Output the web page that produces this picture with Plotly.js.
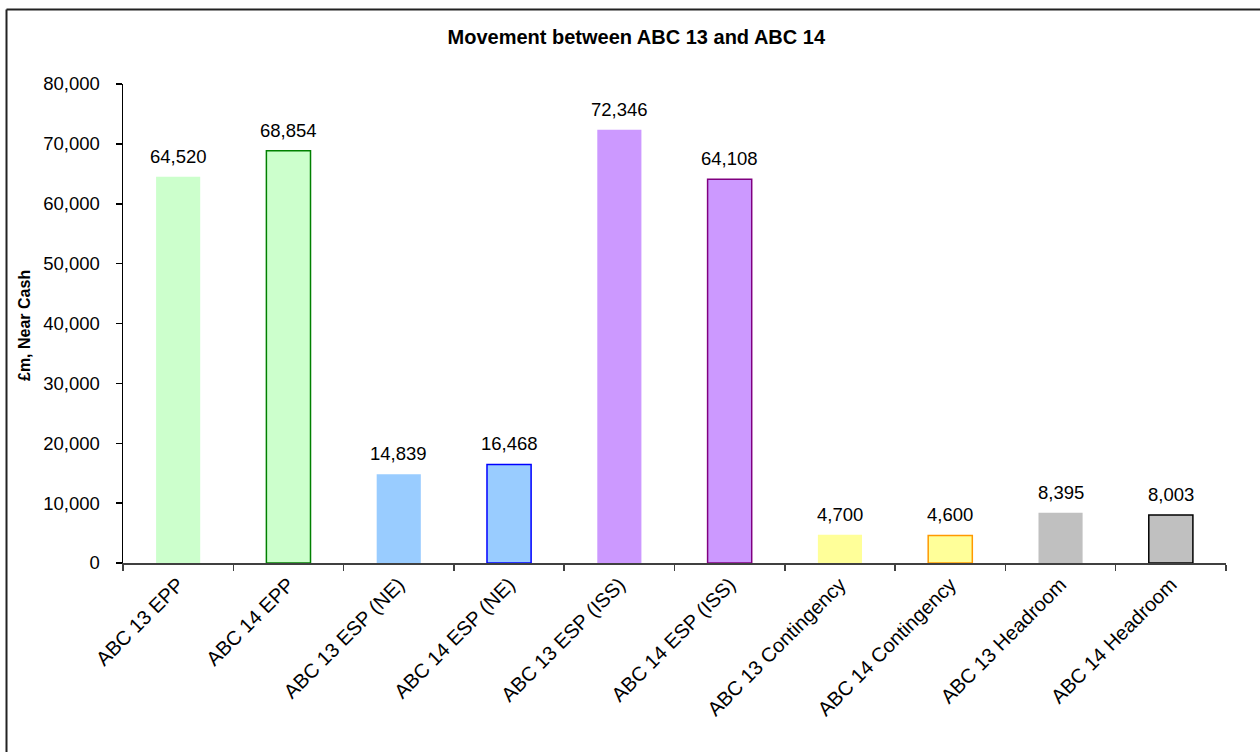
<!DOCTYPE html>
<html>
<head>
<meta charset="utf-8">
<script src="https://cdn.plot.ly/plotly-3.0.1.min.js"></script>
<style>
  html, body { margin: 0; padding: 0; background: #fff; }
  #chart { width: 1260px; height: 752px; }
</style>
</head>
<body>
<div id="chart"></div>
<script>
// Near-cash budget lines, ABC 13 vs ABC 14 (£m)
const categories = [
  "ABC 13 EPP", "ABC 14 EPP",
  "ABC 13 ESP (NE)", "ABC 14 ESP (NE)",
  "ABC 13 ESP (ISS)", "ABC 14 ESP (ISS)",
  "ABC 13 Contingency", "ABC 14 Contingency",
  "ABC 13 Headroom", "ABC 14 Headroom"
];
const values = [64520, 68854, 14839, 16468, 72346, 64108, 4700, 4600, 8395, 8003];
const fillColors = [
  "#CCFFCC", "#CCFFCC",
  "#99CCFF", "#99CCFF",
  "#CC99FF", "#CC99FF",
  "#FFFF99", "#FFFF99",
  "#C0C0C0", "#C0C0C0"
];
const outlineColors = [
  "#CCFFCC", "#008000",
  "#99CCFF", "#0000FF",
  "#CC99FF", "#800080",
  "#FFFF99", "#FF9900",
  "#C0C0C0", "#000000"
];
const outlineWidths = [0, 1.5, 0, 1.5, 0, 1.5, 0, 1.5, 0, 1.5];
const yTickValues = [0, 10000, 20000, 30000, 40000, 50000, 60000, 70000, 80000];

const FONT = "Arial, 'Liberation Sans', sans-serif";

const trace = {
  type: "bar",
  x: categories,
  y: values,
  width: 0.4,
  marker: {
    color: fillColors,
    line: { color: outlineColors, width: outlineWidths }
  },
  hoverinfo: "skip",
  showlegend: false
};

// Value labels above each bar
const valueLabels = categories.map((c, i) => ({
  x: c,
  y: values[i],
  xref: "x",
  yref: "y",
  text: values[i].toLocaleString("en-US"),
  showarrow: false,
  yanchor: "bottom",
  yshift: 8,
  font: { family: FONT, size: 18.5, color: "#000" }
}));

const layout = {
  width: 1260,
  height: 752,
  margin: { l: 123, r: 34, t: 84, b: 189 },
  paper_bgcolor: "#fff",
  plot_bgcolor: "#fff",
  font: { family: FONT, color: "#000" },
  title: {
    text: "<b>Movement between ABC 13 and ABC 14</b>",
    font: { family: FONT, size: 20, color: "#000" },
    x: 0.505,
    xanchor: "center",
    y: 1 - 37 / 752,
    yanchor: "middle"
  },
  xaxis: {
    type: "category",
    showgrid: false,
    showline: true,
    linecolor: "#404040",
    linewidth: 2,
    ticks: "outside",
    tickson: "boundaries",
    ticklen: 6,
    tickcolor: "#404040",
    tickwidth: 1.5,
    tickangle: -45,
    tickfont: { family: FONT, size: 20, color: "#000" },
    zeroline: false
  },
  yaxis: {
    range: [0, 80000],
    autorange: false,
    tickvals: yTickValues,
    tickformat: ",d",
    showgrid: false,
    zeroline: false,
    showline: true,
    linecolor: "#000",
    linewidth: 1.5,
    ticks: "outside",
    ticklen: 6,
    tickcolor: "#000",
    tickwidth: 1.5,
    ticklabelstandoff: 12,
    tickfont: { family: FONT, size: 18.5, color: "#000" }
  },
  annotations: valueLabels.concat([{
    text: "<b>£m, Near Cash</b>",
    xref: "paper",
    yref: "paper",
    x: (24 - 123) / 1103,
    y: (563 - 326) / 479,
    textangle: -90,
    showarrow: false,
    xanchor: "center",
    yanchor: "middle",
    font: { family: FONT, size: 16, color: "#000" }
  }]),
  shapes: [
    // chart-area frame (left and top edges inside the page)
    { type: "line", xref: "paper", yref: "paper",
      x0: (6.5 - 123) / 1103, x1: (1275 - 123) / 1103,
      y0: (563 - 9.5) / 479, y1: (563 - 9.5) / 479,
      line: { color: "#222", width: 2 } },
    { type: "line", xref: "paper", yref: "paper",
      x0: (6.5 - 123) / 1103, x1: (6.5 - 123) / 1103,
      y0: (563 - 9.5) / 479, y1: (563 - 770) / 479,
      line: { color: "#222", width: 2 } }
  ]
};

Plotly.newPlot("chart", [trace], layout, { displayModeBar: false, staticPlot: true });
</script>
</body>
</html>
